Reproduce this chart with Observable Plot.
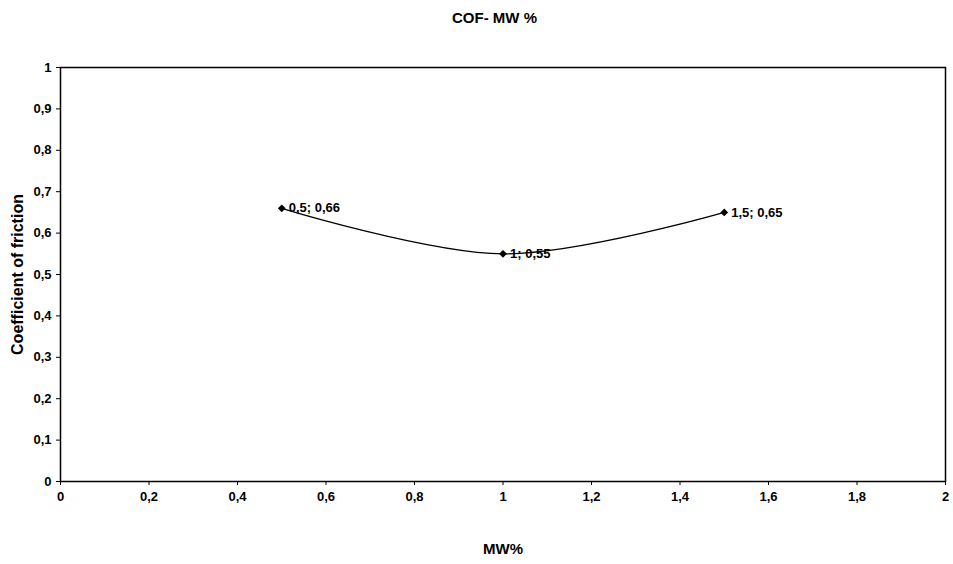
<!DOCTYPE html>
<html>
<head>
<meta charset="utf-8">
<script src="https://cdn.jsdelivr.net/npm/d3@7"></script>
<script src="https://cdn.jsdelivr.net/npm/@observablehq/plot@0.6"></script>
<style>
  body { margin: 0; background: #fff; font-family: "Liberation Sans", Arial, sans-serif; }
  #title { height: 40px; line-height: 36px; text-align: center; font-weight: bold; font-size: 15px; padding-left: 36px; box-sizing: border-box; width: 953px; }
</style>
</head>
<body>
<div id="title">COF- MW %</div>
<div id="chart"></div>
<script>
const mw = [0.5, 1, 1.5];
const cof = [0.66, 0.55, 0.65];
const pointLabels = ["0,5; 0,66", "1; 0,55", "1,5; 0,65"];
const xTicks = [0, 0.2, 0.4, 0.6, 0.8, 1, 1.2, 1.4, 1.6, 1.8, 2];
const yTicks = [0, 0.1, 0.2, 0.3, 0.4, 0.5, 0.6, 0.7, 0.8, 0.9, 1];

const data = mw.map((x, i) => ({x, y: cof[i], label: pointLabels[i]}));
const comma = d => String(d).replace(".", ",");

const chart = Plot.plot({
  width: 953,
  height: 524,
  marginLeft: 60,
  marginRight: 8,
  marginTop: 27,
  marginBottom: 83,
  style: {fontFamily: "'Liberation Sans', Arial, sans-serif", fontWeight: "bold", background: "#fff", color: "#000"},
  x: {domain: [0, 2], ticks: xTicks, tickFormat: comma, tickSize: 4, tickPadding: 6, label: "MW%", labelArrow: "none", labelAnchor: "center", labelOffset: 72},
  y: {domain: [0, 1], ticks: yTicks, tickFormat: comma, tickSize: 4, tickPadding: 5, label: "Coefficient of friction", labelArrow: "none", labelAnchor: "center", labelOffset: 49},
  marks: [
    Plot.frame({stroke: "#000", strokeWidth: 1.5}),
    Plot.line(data, {x: "x", y: "y", curve: "catmull-rom", stroke: "#000", strokeWidth: 1.3}),
    Plot.dot(data, {x: "x", y: "y", symbol: "diamond2", r: 3.5, fill: "#000", stroke: "none"}),
    Plot.text(data, {x: "x", y: "y", text: "label", textAnchor: "start", dx: 7, fontSize: 13, fontWeight: "bold", fill: "#000"})
  ]
});
const tickTexts = new Set([...xTicks, ...yTicks].map(comma));
chart.querySelectorAll("text").forEach(t => {
  const s = t.textContent.trim();
  if (tickTexts.has(s)) { t.setAttribute("font-size", "13"); t.style.fontSize = "13px"; }
  else if (s === "MW%") { t.setAttribute("font-size", "15"); t.style.fontSize = "15px"; }
  else if (s === "Coefficient of friction") { t.setAttribute("font-size", "16"); t.style.fontSize = "16px"; }
});
document.getElementById("chart").appendChild(chart);
</script>
</body>
</html>
